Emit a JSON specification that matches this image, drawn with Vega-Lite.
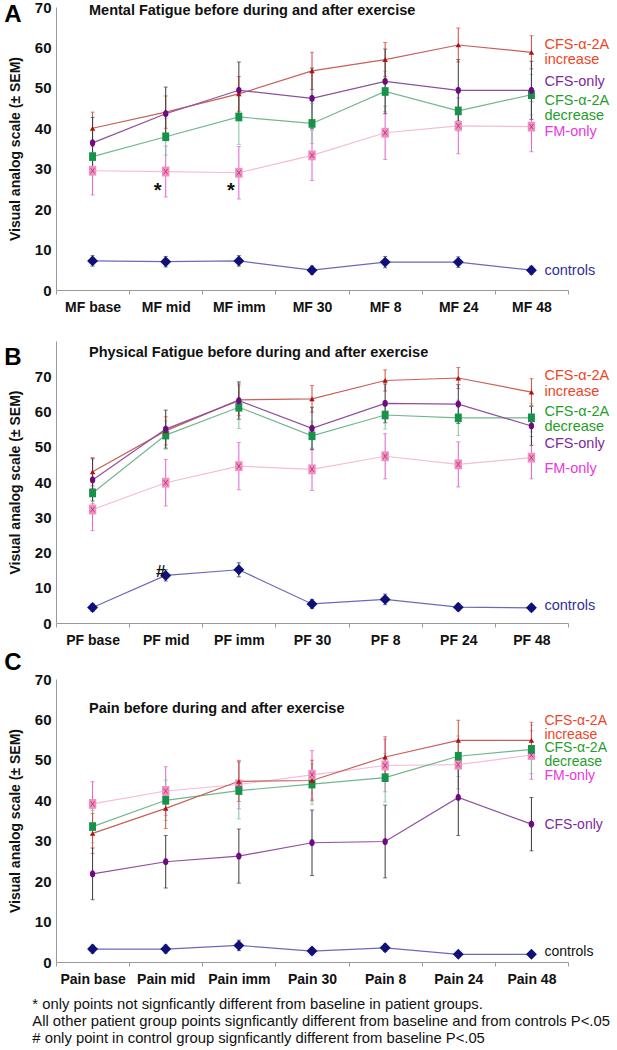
{
  "$schema": "https://vega.github.io/schema/vega-lite/v6.json",
  "config": {
    "font": "Liberation Sans",
    "view": {"stroke": null},
    "axis": {"domainColor": "#9a9a9a", "tickColor": "#9a9a9a", "labelColor": "#111111", "titleColor": "#111111", "grid": false}
  },
  "padding": {"left": 4, "top": 0, "right": 0, "bottom": 0},
  "datasets": {
    "mf": [
      {"cat": "MF base", "group": "FM-only", "mean": 29.5, "sem": 6},
      {"cat": "MF mid", "group": "FM-only", "mean": 29.3, "sem": 6.3},
      {"cat": "MF imm", "group": "FM-only", "mean": 29, "sem": 6.5},
      {"cat": "MF 30", "group": "FM-only", "mean": 33.3, "sem": 6.2},
      {"cat": "MF 8", "group": "FM-only", "mean": 38.9, "sem": 6.6},
      {"cat": "MF 24", "group": "FM-only", "mean": 40.6, "sem": 6.9},
      {"cat": "MF 48", "group": "FM-only", "mean": 40.4, "sem": 6.2},
      {"cat": "MF base", "group": "CFS-α-2A decrease", "mean": 33, "sem": 4},
      {"cat": "MF mid", "group": "CFS-α-2A decrease", "mean": 37.9, "sem": 4.5},
      {"cat": "MF imm", "group": "CFS-α-2A decrease", "mean": 42.8, "sem": 6.8},
      {"cat": "MF 30", "group": "CFS-α-2A decrease", "mean": 41.2, "sem": 5},
      {"cat": "MF 8", "group": "CFS-α-2A decrease", "mean": 49.1, "sem": 5},
      {"cat": "MF 24", "group": "CFS-α-2A decrease", "mean": 44.3, "sem": 5},
      {"cat": "MF 48", "group": "CFS-α-2A decrease", "mean": 48.3, "sem": 5},
      {"cat": "MF base", "group": "CFS-α-2A increase", "mean": 40, "sem": 4},
      {"cat": "MF mid", "group": "CFS-α-2A increase", "mean": 44, "sem": 4},
      {"cat": "MF imm", "group": "CFS-α-2A increase", "mean": 48.5, "sem": 4.3},
      {"cat": "MF 30", "group": "CFS-α-2A increase", "mean": 54.2, "sem": 4.6},
      {"cat": "MF 8", "group": "CFS-α-2A increase", "mean": 57, "sem": 4.2},
      {"cat": "MF 24", "group": "CFS-α-2A increase", "mean": 60.6, "sem": 4.2},
      {"cat": "MF 48", "group": "CFS-α-2A increase", "mean": 58.8, "sem": 4.1},
      {"cat": "MF base", "group": "CFS-only", "mean": 36.4, "sem": 6.3},
      {"cat": "MF mid", "group": "CFS-only", "mean": 43.6, "sem": 6.6},
      {"cat": "MF imm", "group": "CFS-only", "mean": 49.4, "sem": 7},
      {"cat": "MF 30", "group": "CFS-only", "mean": 47.4, "sem": 7.5},
      {"cat": "MF 8", "group": "CFS-only", "mean": 51.6, "sem": 8},
      {"cat": "MF 24", "group": "CFS-only", "mean": 49.4, "sem": 7.6},
      {"cat": "MF 48", "group": "CFS-only", "mean": 49.4, "sem": 7.2},
      {"cat": "MF base", "group": "controls", "mean": 7.2, "sem": 1.3},
      {"cat": "MF mid", "group": "controls", "mean": 7, "sem": 1.3},
      {"cat": "MF imm", "group": "controls", "mean": 7.2, "sem": 1.3},
      {"cat": "MF 30", "group": "controls", "mean": 4.9, "sem": 1},
      {"cat": "MF 8", "group": "controls", "mean": 6.9, "sem": 1.4},
      {"cat": "MF 24", "group": "controls", "mean": 6.9, "sem": 1.3},
      {"cat": "MF 48", "group": "controls", "mean": 4.9, "sem": 1}
    ],
    "pf": [
      {"cat": "PF base", "group": "FM-only", "mean": 32.2, "sem": 6},
      {"cat": "PF mid", "group": "FM-only", "mean": 39.8, "sem": 6.6},
      {"cat": "PF imm", "group": "FM-only", "mean": 44.5, "sem": 6.7},
      {"cat": "PF 30", "group": "FM-only", "mean": 43.6, "sem": 6},
      {"cat": "PF 8", "group": "FM-only", "mean": 47.3, "sem": 6.4},
      {"cat": "PF 24", "group": "FM-only", "mean": 45, "sem": 6.4},
      {"cat": "PF 48", "group": "FM-only", "mean": 46.9, "sem": 6},
      {"cat": "PF base", "group": "CFS-α-2A decrease", "mean": 36.9, "sem": 3},
      {"cat": "PF mid", "group": "CFS-α-2A decrease", "mean": 53.3, "sem": 4},
      {"cat": "PF imm", "group": "CFS-α-2A decrease", "mean": 61.2, "sem": 6},
      {"cat": "PF 30", "group": "CFS-α-2A decrease", "mean": 53.1, "sem": 4},
      {"cat": "PF 8", "group": "CFS-α-2A decrease", "mean": 59, "sem": 4},
      {"cat": "PF 24", "group": "CFS-α-2A decrease", "mean": 58.2, "sem": 5},
      {"cat": "PF 48", "group": "CFS-α-2A decrease", "mean": 58.2, "sem": 4},
      {"cat": "PF base", "group": "CFS-α-2A increase", "mean": 42.9, "sem": 4},
      {"cat": "PF mid", "group": "CFS-α-2A increase", "mean": 54.5, "sem": 4},
      {"cat": "PF imm", "group": "CFS-α-2A increase", "mean": 63.3, "sem": 4.5},
      {"cat": "PF 30", "group": "CFS-α-2A increase", "mean": 63.6, "sem": 3.8},
      {"cat": "PF 8", "group": "CFS-α-2A increase", "mean": 68.8, "sem": 3},
      {"cat": "PF 24", "group": "CFS-α-2A increase", "mean": 69.5, "sem": 3},
      {"cat": "PF 48", "group": "CFS-α-2A increase", "mean": 65.5, "sem": 3.8},
      {"cat": "PF base", "group": "CFS-only", "mean": 40.6, "sem": 6},
      {"cat": "PF mid", "group": "CFS-only", "mean": 55, "sem": 5.4},
      {"cat": "PF imm", "group": "CFS-only", "mean": 63.1, "sem": 5.3},
      {"cat": "PF 30", "group": "CFS-only", "mean": 55.2, "sem": 6},
      {"cat": "PF 8", "group": "CFS-only", "mean": 62.3, "sem": 5.5},
      {"cat": "PF 24", "group": "CFS-only", "mean": 62.1, "sem": 5.5},
      {"cat": "PF 48", "group": "CFS-only", "mean": 55.9, "sem": 5.5},
      {"cat": "PF base", "group": "controls", "mean": 4.4, "sem": 1.1},
      {"cat": "PF mid", "group": "controls", "mean": 13.5, "sem": 1.6},
      {"cat": "PF imm", "group": "controls", "mean": 15.1, "sem": 2},
      {"cat": "PF 30", "group": "controls", "mean": 5.4, "sem": 1.3},
      {"cat": "PF 8", "group": "controls", "mean": 6.7, "sem": 1.5},
      {"cat": "PF 24", "group": "controls", "mean": 4.5, "sem": 1},
      {"cat": "PF 48", "group": "controls", "mean": 4.3, "sem": 0.9}
    ],
    "pain": [
      {"cat": "Pain base", "group": "FM-only", "mean": 39.1, "sem": 5.5},
      {"cat": "Pain mid", "group": "FM-only", "mean": 42.3, "sem": 6},
      {"cat": "Pain imm", "group": "FM-only", "mean": 43.9, "sem": 6},
      {"cat": "Pain 30", "group": "FM-only", "mean": 46.3, "sem": 6},
      {"cat": "Pain 8", "group": "FM-only", "mean": 48.6, "sem": 6.5},
      {"cat": "Pain 24", "group": "FM-only", "mean": 48.8, "sem": 6},
      {"cat": "Pain 48", "group": "FM-only", "mean": 51.2, "sem": 6},
      {"cat": "Pain base", "group": "CFS-α-2A decrease", "mean": 33.5, "sem": 4},
      {"cat": "Pain mid", "group": "CFS-α-2A decrease", "mean": 40, "sem": 5},
      {"cat": "Pain imm", "group": "CFS-α-2A decrease", "mean": 42.4, "sem": 7},
      {"cat": "Pain 30", "group": "CFS-α-2A decrease", "mean": 44, "sem": 5},
      {"cat": "Pain 8", "group": "CFS-α-2A decrease", "mean": 45.6, "sem": 6},
      {"cat": "Pain 24", "group": "CFS-α-2A decrease", "mean": 50.9, "sem": 5},
      {"cat": "Pain 48", "group": "CFS-α-2A decrease", "mean": 52.6, "sem": 6},
      {"cat": "Pain base", "group": "CFS-α-2A increase", "mean": 31.8, "sem": 5},
      {"cat": "Pain mid", "group": "CFS-α-2A increase", "mean": 38, "sem": 5},
      {"cat": "Pain imm", "group": "CFS-α-2A increase", "mean": 44.7, "sem": 5},
      {"cat": "Pain 30", "group": "CFS-α-2A increase", "mean": 44.9, "sem": 5},
      {"cat": "Pain 8", "group": "CFS-α-2A increase", "mean": 50.7, "sem": 5},
      {"cat": "Pain 24", "group": "CFS-α-2A increase", "mean": 54.8, "sem": 5},
      {"cat": "Pain 48", "group": "CFS-α-2A increase", "mean": 54.8, "sem": 4.5},
      {"cat": "Pain base", "group": "CFS-only", "mean": 21.8, "sem": 6.4},
      {"cat": "Pain mid", "group": "CFS-only", "mean": 24.8, "sem": 6.5},
      {"cat": "Pain imm", "group": "CFS-only", "mean": 26.2, "sem": 6.7},
      {"cat": "Pain 30", "group": "CFS-only", "mean": 29.5, "sem": 8.1},
      {"cat": "Pain 8", "group": "CFS-only", "mean": 29.8, "sem": 9},
      {"cat": "Pain 24", "group": "CFS-only", "mean": 40.7, "sem": 9.4},
      {"cat": "Pain 48", "group": "CFS-only", "mean": 34.1, "sem": 6.6},
      {"cat": "Pain base", "group": "controls", "mean": 3.2, "sem": 1},
      {"cat": "Pain mid", "group": "controls", "mean": 3.2, "sem": 1},
      {"cat": "Pain imm", "group": "controls", "mean": 4.1, "sem": 1.3},
      {"cat": "Pain 30", "group": "controls", "mean": 2.7, "sem": 0.8},
      {"cat": "Pain 8", "group": "controls", "mean": 3.5, "sem": 0.9},
      {"cat": "Pain 24", "group": "controls", "mean": 1.9, "sem": 0.4},
      {"cat": "Pain 48", "group": "controls", "mean": 1.9, "sem": 0.4}
    ],
    "mfL": [
      {"cat": "MF 48", "group": "CFS-α-2A increase", "label": "CFS-α-2A\nincrease", "ly": 60.6},
      {"cat": "MF 48", "group": "CFS-only", "label": "CFS-only", "ly": 51.5},
      {"cat": "MF 48", "group": "CFS-α-2A decrease", "label": "CFS-α-2A\ndecrease", "ly": 46.8},
      {"cat": "MF 48", "group": "FM-only", "label": "FM-only", "ly": 39},
      {"cat": "MF 48", "group": "controls", "label": "controls", "ly": 4.7}
    ],
    "pfL": [
      {"cat": "PF 48", "group": "CFS-α-2A increase", "label": "CFS-α-2A\nincrease", "ly": 70},
      {"cat": "PF 48", "group": "CFS-α-2A decrease", "label": "CFS-α-2A\ndecrease", "ly": 60},
      {"cat": "PF 48", "group": "CFS-only", "label": "CFS-only", "ly": 50.8},
      {"cat": "PF 48", "group": "FM-only", "label": "FM-only", "ly": 43.6},
      {"cat": "PF 48", "group": "controls", "label": "controls", "ly": 4.7}
    ],
    "painL": [
      {"cat": "Pain 48", "group": "CFS-α-2A increase", "label": "CFS-α-2A\nincrease", "ly": 59.6},
      {"cat": "Pain 48", "group": "CFS-α-2A decrease", "label": "CFS-α-2A\ndecrease", "ly": 52.9},
      {"cat": "Pain 48", "group": "FM-only", "label": "FM-only", "ly": 46.1},
      {"cat": "Pain 48", "group": "CFS-only", "label": "CFS-only", "ly": 33.8},
      {"cat": "Pain 48", "group": "controls", "label": "controls", "ly": 2.5}
    ],
    "mfN": [
      {"cat": "MF mid", "sym": "*", "ny": 24.5},
      {"cat": "MF imm", "sym": "*", "ny": 24.5}
    ],
    "pfN": [
      {"cat": "PF mid", "sym": "#", "ny": 14.5}
    ]
  },
  "title": {
    "text": [
      "* only points not signficantly different from baseline in patient groups.",
      "All other patient group points signficantly different from baseline and from controls P<.05",
      "# only point in control group signficantly different from baseline P<.05"
    ],
    "orient": "bottom", "anchor": "start", "frame": "bounds",
    "fontSize": 14.8, "fontWeight": "normal", "lineHeight": 17, "dx": 28, "offset": 11, "color": "#111111"
  },
  "spacing": 27,
  "vconcat": [
    {
      "title": {"text": "A", "anchor": "start", "frame": "bounds", "fontSize": 24, "fontWeight": "bold", "offset": -27, "dx": -4, "color": "#000000"},
      "vconcat": [
        {
          "width": 512, "height": 283,
          "title": {"text": "Mental Fatigue before during and after exercise", "anchor": "start", "frame": "group", "dx": 33, "offset": -18, "fontSize": 14.5, "fontWeight": "bold", "color": "#111111"},
          "data": {"name": "mf"},
          "encoding": {
            "x": {"field": "cat", "type": "nominal", "sort": ["MF base", "MF mid", "MF imm", "MF 30", "MF 8", "MF 24", "MF 48"], "scale": {"paddingInner": 0, "paddingOuter": 0},
                  "axis": {"title": null, "labelAngle": 0, "labelFontSize": 14, "labelFontWeight": "bold", "tickBand": "extent", "tickSize": 4, "labelPadding": 6, "labelOverlap": false}},
            "y": {"field": "mean", "type": "quantitative", "scale": {"domain": [0, 70]},
                  "axis": {"title": "Visual analog scale (± SEM)", "values": [0, 10, 20, 30, 40, 50, 60, 70], "ticks": false, "labelFontSize": 15, "labelFontWeight": "bold", "labelPadding": 5, "titleFontSize": 14, "titleFontWeight": "bold", "titlePadding": 12}}
          },
          "layer": [
            {"mark": {"type": "line", "strokeWidth": 1.2},
             "encoding": {"color": {"field": "group", "type": "nominal", "legend": null, "scale": {"domain": ["CFS-α-2A increase", "CFS-only", "CFS-α-2A decrease", "FM-only", "controls"], "range": ["#c86058", "#8e4e9e", "#6fb88e", "#f5bcd6", "#6a6ab8"]}}}},
            {"mark": {"type": "errorbar", "thickness": 1, "ticks": {"size": 4}},
             "encoding": {"yError": {"field": "sem"}, "color": {"field": "group", "type": "nominal", "legend": null, "scale": {"domain": ["CFS-α-2A increase", "CFS-only", "CFS-α-2A decrease", "FM-only", "controls"], "range": ["#d04a40", "#3a3a3a", "#7cc49a", "#e060d0", "#3a3a5a"]}}}},
            {"mark": {"type": "point", "filled": true, "opacity": 1},
             "encoding": {
               "color": {"field": "group", "type": "nominal", "legend": null, "scale": {"domain": ["CFS-α-2A increase", "CFS-only", "CFS-α-2A decrease", "FM-only", "controls"], "range": ["#b01010", "#6e0a82", "#16924a", "#f38fc0", "#10107a"]}},
               "shape": {"field": "group", "type": "nominal", "legend": null, "scale": {"domain": ["CFS-α-2A increase", "CFS-only", "CFS-α-2A decrease", "FM-only", "controls"], "range": ["triangle-up", "M0.75,0L0.65,0.5L0.375,0.866L0,1L-0.375,0.866L-0.65,0.5L-0.75,0L-0.65,-0.5L-0.375,-0.866L0,-1L0.375,-0.866L0.65,-0.5Z", "M-0.8,-1H0.8V1H-0.8Z", "M-0.75,-1H0.75V1H-0.75Z", "diamond"]}},
               "size": {"field": "group", "type": "nominal", "legend": null, "scale": {"domain": ["CFS-α-2A increase", "CFS-only", "CFS-α-2A decrease", "FM-only", "controls"], "range": [30, 120, 25, 60, 30]}}
             }},
            {"transform": [{"filter": "datum.group === 'FM-only'"}],
             "mark": {"type": "point", "filled": false, "shape": "M-0.6,-0.8L0.6,0.8M0.6,-0.8L-0.6,0.8", "size": 45, "color": "#a03070", "strokeWidth": 0.8, "opacity": 1}},
            {"data": {"name": "mfL"},
             "mark": {"type": "text", "align": "left", "baseline": "middle", "dx": 13, "fontSize": 14.5, "lineBreak": "\n", "lineHeight": 15},
             "encoding": {"y": {"field": "ly", "type": "quantitative", "title": "Visual analog scale (± SEM)"}, "text": {"field": "label"},
               "color": {"field": "group", "type": "nominal", "legend": null, "scale": {"domain": ["CFS-α-2A increase", "CFS-only", "CFS-α-2A decrease", "FM-only", "controls"], "range": ["#ee4526", "#7e2a9c", "#1f9e2a", "#e838e0", "#30309a"]}}}},
            {"data": {"name": "mfN"},
             "mark": {"type": "text", "baseline": "middle", "dx": -8, "fontSize": 20, "fontWeight": "bold", "color": "#111111"},
             "encoding": {"y": {"field": "ny", "type": "quantitative", "title": "Visual analog scale (± SEM)"}, "text": {"field": "sym"}}}
          ],
          "resolve": {"scale": {"color": "independent", "shape": "independent", "size": "independent"}}
        }
      ]
    },
    {
      "spacing": 4,
      "vconcat": [
        {
          "title": {"text": "B", "anchor": "start", "frame": "bounds", "fontSize": 24, "fontWeight": "bold", "offset": -29, "dx": -4, "color": "#000000"},
          "vconcat": [
            {
              "width": 512, "height": 282,
              "title": {"text": "Physical Fatigue before during and after exercise", "anchor": "start", "frame": "group", "dx": 33, "offset": -19, "fontSize": 14.5, "fontWeight": "bold", "color": "#111111"},
              "data": {"name": "pf"},
              "encoding": {
                "x": {"field": "cat", "type": "nominal", "sort": ["PF base", "PF mid", "PF imm", "PF 30", "PF 8", "PF 24", "PF 48"], "scale": {"paddingInner": 0, "paddingOuter": 0},
                      "axis": {"title": null, "labelAngle": 0, "labelFontSize": 14, "labelFontWeight": "bold", "tickBand": "extent", "tickSize": 4, "labelPadding": 6, "labelOverlap": false}},
                "y": {"field": "mean", "type": "quantitative", "scale": {"domain": [0, 80]},
                      "axis": {"title": "Visual analog scale (± SEM)", "values": [0, 10, 20, 30, 40, 50, 60, 70], "ticks": false, "labelFontSize": 15, "labelFontWeight": "bold", "labelPadding": 5, "titleFontSize": 14, "titleFontWeight": "bold", "titlePadding": 12}}
              },
              "layer": [
                {"mark": {"type": "line", "strokeWidth": 1.2},
                 "encoding": {"color": {"field": "group", "type": "nominal", "legend": null, "scale": {"domain": ["CFS-α-2A increase", "CFS-only", "CFS-α-2A decrease", "FM-only", "controls"], "range": ["#c86058", "#8e4e9e", "#6fb88e", "#f5bcd6", "#6a6ab8"]}}}},
                {"mark": {"type": "errorbar", "thickness": 1, "ticks": {"size": 4}},
                 "encoding": {"yError": {"field": "sem"}, "color": {"field": "group", "type": "nominal", "legend": null, "scale": {"domain": ["CFS-α-2A increase", "CFS-only", "CFS-α-2A decrease", "FM-only", "controls"], "range": ["#d04a40", "#3a3a3a", "#7cc49a", "#e060d0", "#3a3a5a"]}}}},
                {"mark": {"type": "point", "filled": true, "opacity": 1},
                 "encoding": {
                   "color": {"field": "group", "type": "nominal", "legend": null, "scale": {"domain": ["CFS-α-2A increase", "CFS-only", "CFS-α-2A decrease", "FM-only", "controls"], "range": ["#b01010", "#6e0a82", "#16924a", "#f38fc0", "#10107a"]}},
                   "shape": {"field": "group", "type": "nominal", "legend": null, "scale": {"domain": ["CFS-α-2A increase", "CFS-only", "CFS-α-2A decrease", "FM-only", "controls"], "range": ["triangle-up", "M0.75,0L0.65,0.5L0.375,0.866L0,1L-0.375,0.866L-0.65,0.5L-0.75,0L-0.65,-0.5L-0.375,-0.866L0,-1L0.375,-0.866L0.65,-0.5Z", "M-0.8,-1H0.8V1H-0.8Z", "M-0.75,-1H0.75V1H-0.75Z", "diamond"]}},
                   "size": {"field": "group", "type": "nominal", "legend": null, "scale": {"domain": ["CFS-α-2A increase", "CFS-only", "CFS-α-2A decrease", "FM-only", "controls"], "range": [30, 120, 25, 60, 30]}}
                 }},
                {"transform": [{"filter": "datum.group === 'FM-only'"}],
                 "mark": {"type": "point", "filled": false, "shape": "M-0.6,-0.8L0.6,0.8M0.6,-0.8L-0.6,0.8", "size": 45, "color": "#a03070", "strokeWidth": 0.8, "opacity": 1}},
                {"data": {"name": "pfL"},
                 "mark": {"type": "text", "align": "left", "baseline": "middle", "dx": 13, "fontSize": 14.5, "lineBreak": "\n", "lineHeight": 15.5},
                 "encoding": {"y": {"field": "ly", "type": "quantitative", "title": "Visual analog scale (± SEM)"}, "text": {"field": "label"},
                   "color": {"field": "group", "type": "nominal", "legend": null, "scale": {"domain": ["CFS-α-2A increase", "CFS-only", "CFS-α-2A decrease", "FM-only", "controls"], "range": ["#ee4526", "#7e2a9c", "#1f9e2a", "#e838e0", "#30309a"]}}}},
                {"data": {"name": "pfN"},
                 "mark": {"type": "text", "baseline": "middle", "dx": -5, "fontSize": 17, "fontWeight": "bold", "color": "#111111"},
                 "encoding": {"y": {"field": "ny", "type": "quantitative", "title": "Visual analog scale (± SEM)"}, "text": {"field": "sym"}}}
              ],
              "resolve": {"scale": {"color": "independent", "shape": "independent", "size": "independent"}}
            }
          ]
        },
        {
          "title": {"text": "C", "anchor": "start", "frame": "bounds", "fontSize": 24, "fontWeight": "bold", "offset": -3, "dx": -4, "color": "#000000"},
          "vconcat": [
            {
              "width": 512, "height": 283,
              "title": {"text": "Pain before during and after exercise", "anchor": "start", "frame": "group", "dx": 33, "offset": -44, "fontSize": 14.5, "fontWeight": "bold", "color": "#111111"},
              "data": {"name": "pain"},
              "encoding": {
                "x": {"field": "cat", "type": "nominal", "sort": ["Pain base", "Pain mid", "Pain imm", "Pain 30", "Pain 8", "Pain 24", "Pain 48"], "scale": {"paddingInner": 0, "paddingOuter": 0},
                      "axis": {"title": null, "labelAngle": 0, "labelFontSize": 14, "labelFontWeight": "bold", "tickBand": "extent", "tickSize": 4, "labelPadding": 6, "labelOverlap": false}},
                "y": {"field": "mean", "type": "quantitative", "scale": {"domain": [0, 70]},
                      "axis": {"title": "Visual analog scale (± SEM)", "values": [0, 10, 20, 30, 40, 50, 60, 70], "ticks": false, "labelFontSize": 15, "labelFontWeight": "bold", "labelPadding": 5, "titleFontSize": 14, "titleFontWeight": "bold", "titlePadding": 12}}
              },
              "layer": [
                {"mark": {"type": "line", "strokeWidth": 1.2},
                 "encoding": {"color": {"field": "group", "type": "nominal", "legend": null, "scale": {"domain": ["CFS-α-2A increase", "CFS-only", "CFS-α-2A decrease", "FM-only", "controls"], "range": ["#c86058", "#8e4e9e", "#6fb88e", "#f5bcd6", "#6a6ab8"]}}}},
                {"mark": {"type": "errorbar", "thickness": 1, "ticks": {"size": 4}},
                 "encoding": {"yError": {"field": "sem"}, "color": {"field": "group", "type": "nominal", "legend": null, "scale": {"domain": ["CFS-α-2A increase", "CFS-only", "CFS-α-2A decrease", "FM-only", "controls"], "range": ["#d04a40", "#3a3a3a", "#7cc49a", "#e060d0", "#3a3a5a"]}}}},
                {"mark": {"type": "point", "filled": true, "opacity": 1},
                 "encoding": {
                   "color": {"field": "group", "type": "nominal", "legend": null, "scale": {"domain": ["CFS-α-2A increase", "CFS-only", "CFS-α-2A decrease", "FM-only", "controls"], "range": ["#b01010", "#6e0a82", "#16924a", "#f38fc0", "#10107a"]}},
                   "shape": {"field": "group", "type": "nominal", "legend": null, "scale": {"domain": ["CFS-α-2A increase", "CFS-only", "CFS-α-2A decrease", "FM-only", "controls"], "range": ["triangle-up", "M0.75,0L0.65,0.5L0.375,0.866L0,1L-0.375,0.866L-0.65,0.5L-0.75,0L-0.65,-0.5L-0.375,-0.866L0,-1L0.375,-0.866L0.65,-0.5Z", "M-0.8,-1H0.8V1H-0.8Z", "M-0.75,-1H0.75V1H-0.75Z", "diamond"]}},
                   "size": {"field": "group", "type": "nominal", "legend": null, "scale": {"domain": ["CFS-α-2A increase", "CFS-only", "CFS-α-2A decrease", "FM-only", "controls"], "range": [30, 120, 25, 60, 30]}}
                 }},
                {"transform": [{"filter": "datum.group === 'FM-only'"}],
                 "mark": {"type": "point", "filled": false, "shape": "M-0.6,-0.8L0.6,0.8M0.6,-0.8L-0.6,0.8", "size": 45, "color": "#a03070", "strokeWidth": 0.8, "opacity": 1}},
                {"data": {"name": "painL"},
                 "mark": {"type": "text", "align": "left", "baseline": "middle", "dx": 13, "fontSize": 14, "lineBreak": "\n", "lineHeight": 13.5},
                 "encoding": {"y": {"field": "ly", "type": "quantitative", "title": "Visual analog scale (± SEM)"}, "text": {"field": "label"},
                   "color": {"field": "group", "type": "nominal", "legend": null, "scale": {"domain": ["CFS-α-2A increase", "CFS-only", "CFS-α-2A decrease", "FM-only", "controls"], "range": ["#ee4526", "#7e2a9c", "#1f9e2a", "#e838e0", "#111111"]}}}}
              ],
              "resolve": {"scale": {"color": "independent", "shape": "independent", "size": "independent"}}
            }
          ]
        }
      ]
    }
  ]
}
